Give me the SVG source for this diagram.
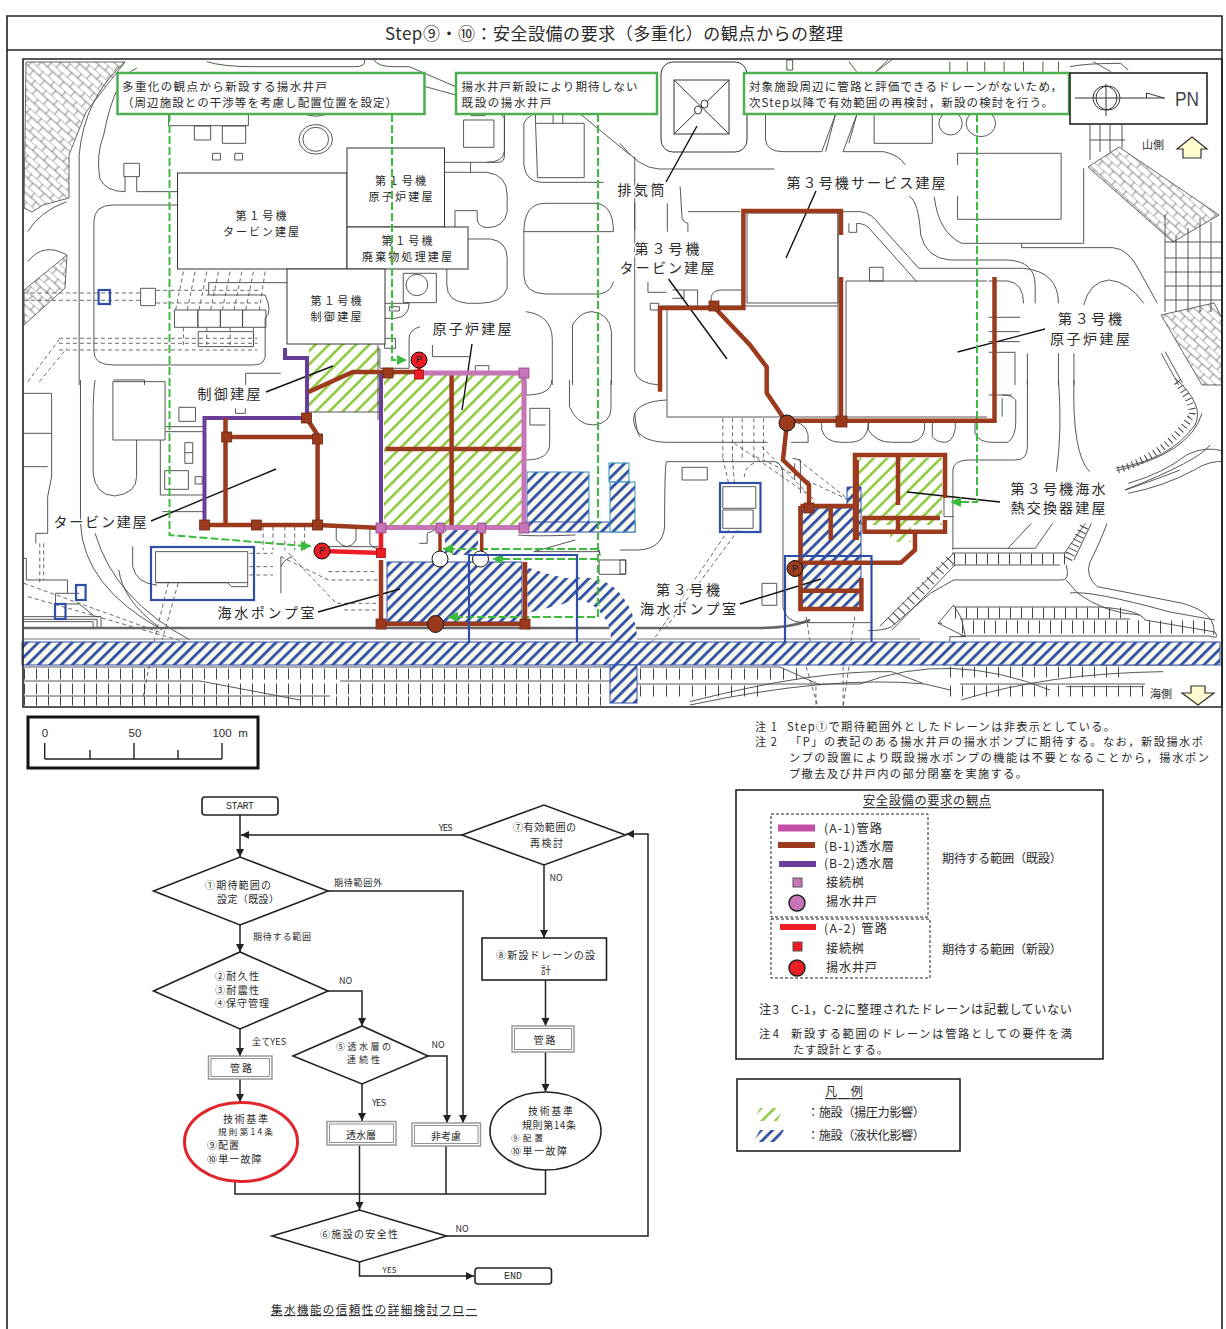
<svg xmlns="http://www.w3.org/2000/svg" width="1226" height="1329" viewBox="0 0 1226 1329">
<style>
text{font-family:"Noto Sans CJK JP","Noto Sans",sans-serif;fill:#2a2a2a;dominant-baseline:central}
.mono{font-family:"Liberation Mono","Noto Sans CJK JP",monospace}
.c{text-anchor:middle}
.u{text-decoration:underline}
.l{font-size:14px;paint-order:stroke;stroke:#fff;stroke-width:3px}
.s{font-size:11.5px}
.b{font-size:11px}
.f{font-size:10px}
.n{font-size:11.200px}
.g{font-size:12.200px}
.m *{fill:none;stroke:#444;stroke-width:.9px;vector-effect:non-scaling-stroke}
.m .d{stroke-dasharray:4 3;stroke-width:.8px}
.lead{stroke:#111;stroke-width:1.4px;fill:none}
.bldg{fill:#fff;stroke:#333;stroke-width:1px}
.gb{fill:#fff;stroke:#4cb050;stroke-width:2.5px}
.gd{fill:none;stroke:#3dbb3d;stroke-width:2px;stroke-dasharray:8 3}
.ga{fill:#3dbb3d}
.bo{fill:none;stroke:#2f4ea6;stroke-width:2.2px}
.hb{fill:url(#hb);stroke:#2f4ea6;stroke-width:1px}
.hg{fill:url(#hg)}
.br{fill:none;stroke:#9c3a1e;stroke-width:4.5px;stroke-linejoin:miter}
.br2{fill:none;stroke:#9c3a1e;stroke-width:3.5px}
.pu{fill:none;stroke:#6a3d9a;stroke-width:4px}
.mg{fill:none;stroke:#c774b8;stroke-width:5px}
.re{fill:none;stroke:#ee1c25;stroke-width:4px}
.sb{fill:#9c3a1e;stroke:#6e2a14;stroke-width:.8px}
.sm{fill:#c774b8;stroke:#8a4a80;stroke-width:.8px}
.sr{fill:#ee1c25;stroke:#a01015;stroke-width:.8px}
.st{fill:url(#st);stroke:#444;stroke-width:.8px}
.pk{fill:none;stroke:#444;stroke-width:11px;stroke-dasharray:1 11}
.pl{fill:none;stroke:#444;stroke-width:.9px}
.fl{fill:none;stroke:#222;stroke-width:1.5px}
.fa{fill:none;stroke:#222;stroke-width:1.5px;marker-end:url(#ah)}
.fn{fill:#fff;stroke:#222;stroke-width:1.6px}
.db{fill:#fff;stroke:#999;stroke-width:1.5px}
.db2{fill:none;stroke:#777;stroke-width:.8px}
.box{fill:#fff;stroke:#222;stroke-width:1.6px}
.dash{fill:none;stroke:#222;stroke-width:1px;stroke-dasharray:3 2}
</style>
<defs>
<pattern id="hb" width="8" height="8" patternUnits="userSpaceOnUse" patternTransform="rotate(45)"><rect width="8" height="8" fill="#fbfbee"/><rect width="2.800" height="8" fill="#2f4ea6"/></pattern>
<pattern id="hg" width="9.500" height="9.500" patternUnits="userSpaceOnUse" patternTransform="rotate(45)"><rect width="9.500" height="9.500" fill="#fff"/><rect width="2.600" height="9.500" fill="#8fc93f"/></pattern>
<pattern id="st" width="15" height="12" patternUnits="userSpaceOnUse" patternTransform="rotate(42)"><rect width="15" height="12" fill="#fff"/><path d="M0 0H15M0 6H15M5 0V6M12 6V12" stroke="#555" stroke-width=".7" fill="none"/></pattern>
<marker id="ah" markerWidth="9" markerHeight="9" refX="8" refY="4" orient="auto" markerUnits="userSpaceOnUse"><path d="M0 0L8 4L0 8Z" fill="#222"/></marker>
<clipPath id="map"><rect x="24" y="59" width="1197" height="647"/></clipPath>
</defs>
<rect width="1226" height="1329" fill="#fff"/>
<g id="frame">
<path d="M7 1329V16H1222V1329" fill="none" stroke="#222" stroke-width="1.600"/>
<path d="M7 50H1222" fill="none" stroke="#222" stroke-width="1.600"/>
<text x="614" y="32" class="c" font-size="17" textLength="458">Step⑨・⑩：安全設備の要求（多重化）の観点からの整理</text>
</g>
<g id="map-base" clip-path="url(#map)">
<polygon class="st" points="26,62 125,62 86,112 69,155 69,198 43,205 32,212 24,208"/>
<polygon class="st" points="67,255 65,288 24,325 24,290"/>
<polygon class="st" points="1088,167 1119,147 1219,215 1173,242"/>
<polygon class="st" points="1161,315 1214,303 1224,322 1224,385 1202,385"/>
<path class="pl" d="M1165,215V312M1222,218V312M1165,242H1222M1165,258H1222M1165,272H1222M1165,286H1222M1165,300H1222M1176,236V312M1188,228V312M1200,218V312M1211,222V312"/>
<path class="pl" d="M1090,125V160M1100,125V152M1110,125V152M1122,125V148M1090,140H1125"/>
<path class="pk" d="M1177,382Q1198,410 1190,418Q1165,455 1118,470" style="stroke-width:7px;stroke-dasharray:1 4"/>
<path class="pl" d="M1175,378Q1205,405 1195,425Q1170,460 1116,468M1180,470Q1160,478 1125,490Q1200,460 1210,445"/>
<g id="parking">
<path class="pk" d="M24,674H612"/>
<path class="pk" d="M24,689H612"/>
<path class="pk" d="M24,701H612" style="stroke-width:9px"/>
<path class="pl" d="M24,667H612M24,681H200L300,700M24,696H330M610,681H340M620,684H860Q950,650 1050,690M640,667H780L820,685"/>
<path class="pk" d="M640,674H800" style="stroke-dasharray:1 12"/>
<path class="pk" d="M640,691H760" style="stroke-dasharray:1 12"/>
<path class="pk" d="M950,672H1130" style="stroke-dasharray:1 11"/>
<path class="pk" d="M950,691H1145" style="stroke-dasharray:1 11"/>
<path class="pl" d="M960,684H1145M690,705Q830,675 925,684L950,690M955,665H1190"/>
<path class="pk" d="M954,559H1068" style="stroke-width:11px;stroke-dasharray:1 10"/>
<path class="pl" d="M952,553H1068M952,565H1060"/>
<path class="pk" d="M950,560L888,625" style="stroke-width:10px;stroke-dasharray:1 6"/>
<path class="pl" d="M954,553L880,626M955,565L892,630"/>
<path class="pk" d="M955,613H1130" style="stroke-width:11px;stroke-dasharray:1 10"/>
<path class="pk" d="M962,627H1210" style="stroke-width:13px;stroke-dasharray:1 10"/>
<path class="pl" d="M955,607H1100Q1140,610 1145,620L1215,632Q1220,640 1210,636H960M960,619H1130M1070,593Q1090,590 1170,612Q1215,620 1215,620"/>
<path class="pk" d="M1068,559L1085,525" style="stroke-width:9px;stroke-dasharray:1 4"/>
</g>
<g class="m" transform="translate(20 55) scale(.3891 .3333)">
<path d="M270,20Q165,130 152,300V990"/>
<path d="M300,40Q245,60 215,240Q195,300 205,370Q220,410 270,410V365M300,365V410H405M405,450H240Q190,450 190,500V890Q190,930 240,930H600Q635,930 630,890V790Q650,770 630,720H480"/>
<path d="M20,530Q50,470 120,440M20,620Q60,560 120,600"/>
<rect x="267" y="325" width="40" height="40"/>
<rect x="382" y="177" width="205" height="35"/>
<rect x="448" y="213" width="42" height="42"/>
<rect x="520" y="213" width="60" height="52"/>
<rect x="495" y="295" width="20" height="20"/>
<rect x="552" y="295" width="20" height="20"/>
<ellipse cx="760" cy="253" rx="43" ry="44"/>
<ellipse cx="760" cy="253" rx="33" ry="36"/>
<path d="M730,177Q760,190 790,177M480,20Q520,35 600,35H860Q890,35 885,15M910,15Q920,35 960,35H1000L1120,95M1042,95L1120,120"/>
<rect x="397" y="765" width="60" height="52"/>
<rect x="457" y="765" width="58" height="52"/>
<rect x="515" y="765" width="57" height="52"/>
<rect x="572" y="765" width="60" height="52"/>
<rect x="310" y="700" width="38" height="52"/>
<path class="d" d="M10,714H310M350,706H620M10,736H310M350,744H620M420,650L400,765M450,650L430,765M480,650L460,765M510,650L490,765M540,650L520,765M570,650L550,765M600,650L580,765M630,650L615,765M420,817V870M480,817V870M540,817V870M600,817V870M100,850H610M100,865H610M100,885H610M20,980L100,855M50,980L120,880"/>
<path d="M485,683H687M485,683V720M458,830H600V875H458Z"/>
<path d="M1091,322H1230Q1245,322 1245,300V190Q1240,175 1225,172M1158,322V352M1091,352H1200Q1252,360 1252,420V470Q1245,518 1200,518Q1175,515 1175,490V467H1118V517"/>
<path d="M1151,552H1210Q1252,560 1252,610V700Q1240,745 1180,745H1150Q1097,740 1097,690V643"/>
<rect x="985" y="655" width="85" height="88"/>
<ellipse cx="1020" cy="690" rx="28" ry="32"/>
<path d="M937,745H1000Q1000,785 965,790H937M950,755H975V768H950ZM937,850H965V880H937ZM925,880V940H1000V850Q1000,825 1028,815M1060,870V905H1155M1170,950V932H1205V950"/>
<path d="M1300,770Q1365,780 1368,850V990M1420,990V810Q1440,770 1470,770Q1515,775 1520,830V990"/>
<path d="M1140,195H1218V277H1140ZM1160,177V182H1195V177M1245,180Q1245,250 1245,290Q1240,322 1200,322M1295,205V330Q1300,380 1340,382H1500"/>
<path d="M1325,205H1450V368H1330ZM1370,177V205M1395,205V177M1325,205V175M1295,205Q1300,190 1315,180M1440,177L1568,300"/>
<path d="M1295,530V660Q1295,715 1350,717H1490Q1520,710 1525,680M1525,530Q1525,450 1480,445H1350Q1295,445 1295,530Z"/>
<path d="M240,975H320V990M580,990V955H670"/>
</g>
<g class="m" transform="translate(20 380) scale(.3953 .3333)">
<rect x="235" y="5" width="132" height="175"/>
<path d="M10,40H80V290L70,350V460H40V490M10,160H80M10,260H70"/>
<path d="M190,0Q185,30 185,120V280Q190,345 240,348Q295,340 295,290V180"/>
<path d="M368,140H465M368,155H465M355,180V345H465M465,395H360"/>
<rect x="402" y="82" width="42" height="42"/>
<rect x="417" y="188" width="20" height="62"/>
<path d="M417,218H437M545,85V100H570V85"/>
<rect x="366" y="272" width="60" height="56"/>
<rect x="443" y="290" width="18" height="22"/>
<path d="M1280,0V45Q1345,45 1345,0M1280,240Q1340,240 1340,190V85H1290V135H1330M1390,0V80Q1410,135 1450,135Q1495,130 1495,85V0M1555,100Q1560,160 1568,170"/>
<path d="M153,0V430Q160,620 360,750M190,460Q240,660 430,780M285,500V560Q295,610 345,615H342M250,570Q260,660 350,740"/>
<rect x="343" y="515" width="233" height="93"/>
<path d="M343,608H525L535,620H576V608"/>
<path class="d" d="M615,440V510M640,440V510M670,440V510M695,440V510M720,440V510M580,520H640M580,560H640M580,585H640M680,520L800,670H905M660,530L780,600H905M780,575H905M820,690H905"/>
<path d="M760,500H912M800,440V480Q830,520 850,480V440M885,440V490Q890,505 905,505"/>
<path d="M660,530V640M660,560Q670,535 690,530"/>
<path class="d" d="M50,490V610M60,490V600M10,610L360,760M20,650L430,790M375,610L340,780L310,960M400,610L360,780"/>
<path d="M10,535H16V600H120V640M90,640H150M90,640V672H150L190,710"/>
<path d="M10,710H205V745M10,718H195V745M10,725H185V745"/>
<path d="M1405,465Q1300,470 1260,465M1010,490H1030V460Q1050,450 1060,445M1465,540H1532V583H1465Z"/>
<path d="M1405,480L1300,515H1465Q1470,540 1465,510"/>
</g>
<path d="M24,628H760Q790,628 810,620" fill="none" stroke="#666" stroke-width="2.500"/>
<path d="M24,639H920" fill="none" stroke="#777" stroke-width="1"/>
<g class="m" transform="translate(620 380) scale(.388 .3333)">
<path d="M120,60Q35,65 35,120Q40,185 120,187H380M445,125Q490,130 485,187Q470,187 440,187M520,125V150Q530,187 570,187H590Q640,187 640,125M640,125V150Q660,187 700,187H750Q790,180 785,125M805,125V170Q815,187 840,187Q865,180 865,125M915,125V160Q925,187 960,187H1000Q1020,170 1020,125V60Q1010,45 985,45M985,55V110M950,45H1010"/>
<path class="d" d="M265,115V235M290,115V235M315,115V235M345,115V235M370,115V235M265,235L280,310M290,235L295,310M345,250Q320,260 320,300M295,190L480,340M365,200L500,360M350,230L590,360M460,240L580,350M305,450L120,740M280,450L80,790M480,710L490,785M605,710L595,785M480,860L510,980M590,860L575,980M505,920V980M575,860V980"/>
<path d="M120,245H400Q420,250 420,290V680Q425,725 470,728H650M120,245Q115,250 115,440Q110,505 50,510H0"/>
<path d="M445,235L465,240V340M450,250V300"/>
<rect x="160" y="262" width="65" height="38"/>
<rect x="265" y="320" width="85" height="65"/>
<rect x="265" y="390" width="78" height="55"/>
<rect x="366" y="610" width="38" height="66"/>
<rect x="0" y="540" width="15" height="42"/>
<path d="M858,510V270Q860,240 900,240H1020Q1050,240 1050,200V0M860,350H835V410H860"/>
<path d="M1130,0Q1140,150 1125,275M1170,0Q1165,220 1210,275M1060,430L1000,505H1070L1115,430M1000,505H858M1280,272Q1470,220 1500,100M1310,310Q1400,280 1460,225Q1510,195 1560,215M1310,340Q1400,320 1480,270Q1520,240 1560,245"/>
<path d="M1145,520L1200,430M1170,540L1215,430M1255,430Q1240,480 1210,550Q1200,590 1230,620L1450,670Q1540,700 1530,765"/>
<path d="M1150,555Q1160,600 1140,600H860L800,640L700,740Q680,752 640,752M1150,600L1180,640Q1250,700 1340,705M860,675L820,730L890,770H850V785M820,730H830M880,715L890,770M860,675L880,715"/>
<path d="M180,965Q500,870 700,875L780,910M1150,920H1350M880,960Q1100,880 1400,875"/>
</g>
<g class="m" transform="translate(620 55) scale(.388 .3333)">
<rect x="430" y="15" width="15" height="30"/>
<path d="M375,175V250Q375,290 420,290H520L555,180M530,290L555,180M575,290L610,180M590,265L610,180M575,290H680Q720,300 735,330M590,20L610,50M660,50L690,15M700,15L660,50"/>
<rect x="655" y="175" width="150" height="90"/>
<ellipse cx="852" cy="205" rx="30" ry="35"/>
<ellipse cx="930" cy="205" rx="38" ry="40"/>
<path d="M870,330V295H1137V493H870V423"/>
<path d="M0,265Q50,340 100,342H398M38,305V525M38,445V950Q45,985 100,990M122,445V530M155,395L160,490Q165,505 175,505V530M175,470H310"/>
<path d="M810,425Q820,530 880,565H1035V578H1270Q1310,580 1340,650L1385,745M1035,565H1195V340M745,423Q770,440 775,540Q790,610 850,615H1000Q1070,620 1070,690V745M575,470H620Q650,475 670,510L770,640H1040Q1130,650 1130,745"/>
<path d="M590,505V532H610V505Q635,505 650,530L765,680"/>
<rect x="643" y="637" width="35" height="41"/>
<path d="M950,678H1000Q1040,685 1040,745M950,787H1032M950,830H1030M950,860H1030M950,892H1018V990M1050,895V990M1130,895V990M1170,895V990M1195,750Q1210,680 1260,675Q1310,680 1350,745"/>
<path d="M72,680V712H120M135,705H200V755M165,705V730H135M235,745V725Q240,705 260,705H318M78,745H100V765H78Z"/>
<path d="M1395,895L1440,990M1405,890L1450,985"/>
<path d="M850,50V20M895,50V20M940,50V20M990,50V20M1040,50V20M1090,50V20M1130,50V20M1160,35Q1200,25 1290,25L1310,45M1220,20L1265,50"/>
</g>
</g>
<g id="hatch-areas">
<rect class="hg" x="309" y="344" width="70" height="68"/>
<rect class="hg" x="384" y="372" width="140" height="153"/>
<path class="hg" d="M859,458H942V525H911V542H890V525H859Z"/>
<rect class="hb" x="527" y="472" width="62" height="51" style="stroke:#2f8fc0"/>
<rect class="hb" x="522" y="522" width="113" height="10"/>
<rect class="hb" x="609" y="463" width="20" height="19" style="stroke:#2f8fc0"/>
<rect class="hb" x="610" y="482" width="25" height="50" style="stroke:#2f8fc0"/>
<path class="hb" d="M445,530H478V555H445Z" style="stroke:none"/>
<rect class="hb" x="387" y="562" width="135" height="60"/>
<path class="hb" d="M526,567Q550,575 565,578Q580,577 593,578Q612,582 622,596Q637,615 637,642H611Q612,625 600,612Q590,600 577,600Q568,601 563,604L528,613Z" style="stroke:none"/>
<rect class="hb" x="22" y="642" width="1198" height="23"/>
<rect class="hb" x="610" y="665" width="27" height="38"/>
<path class="hb" d="M802,508H847V487H861V610H802Z"/>
</g>
<g id="buildings">
<rect class="bldg" x="177.500" y="173" width="169.500" height="96"/>
<rect class="bldg" x="347" y="148" width="97.500" height="79"/>
<rect class="bldg" x="347" y="227" width="121" height="42"/>
<rect class="bldg" x="287" y="269" width="98" height="75"/>
<g class="m">
<path d="M309,412H379"/>
<rect x="747" y="213" width="91" height="90"/>
<path d="M660,306H838M838,213V421M846,281H987M846,281V421M667,306V417H838M846,417H987"/>
<path d="M378,345V420"/>
</g>
<rect class="bldg" x="661" y="62" width="86" height="90" rx="12"/>
<rect class="bldg" x="674" y="80" width="55" height="54"/>
<path d="M674,80L729,134M729,80L674,134" stroke="#333" fill="none"/>
<g fill="#fff" stroke="#333"><ellipse cx="698" cy="110" rx="3.500" ry="4"/><ellipse cx="704.500" cy="104" rx="3.500" ry="4"/></g>
</g>
<g id="map-labels">
<text x="261" y="215" class="c b" textLength="51">第１号機</text><text x="261" y="231" class="c b" textLength="76">タービン建屋</text>
<text x="400.500" y="180" class="c b" textLength="51">第１号機</text><text x="400.500" y="195.500" class="c b" textLength="64">原子炉建屋</text>
<text x="407" y="240" class="c b" textLength="51">第１号機</text><text x="407" y="256" class="c b" textLength="90">廃棄物処理建屋</text>
<text x="336" y="300" class="c b" textLength="51">第１号機</text><text x="336" y="316" class="c b" textLength="51">制御建屋</text>
<text x="472" y="328" class="c l" textLength="79">原子炉建屋</text>
<text x="641" y="189" class="c l" textLength="47">排気筒</text>
<text x="866" y="182" class="c l" textLength="159">第３号機サービス建屋</text>
<text x="667" y="248" class="c l" textLength="65">第３号機</text><text x="667" y="267" class="c l" textLength="95">タービン建屋</text>
<text x="1090" y="318" class="c l" textLength="64">第３号機</text><text x="1090" y="338" class="c l" textLength="80">原子炉建屋</text>
<text x="229" y="393" class="c l" textLength="63">制御建屋</text>
<text x="100" y="521" class="c l" textLength="93">タービン建屋</text>
<text x="266" y="612" class="c l" textLength="97">海水ポンプ室</text>
<text x="688" y="589" class="c l" textLength="64">第３号機</text><text x="688" y="608" class="c l" textLength="96">海水ポンプ室</text>
<text x="1058" y="488" class="c l" textLength="95">第３号機海水</text><text x="1058" y="507" class="c l" textLength="95">熱交換器建屋</text>
<text x="1153" y="144" class="c u b" style="paint-order:stroke;stroke:#fff;stroke-width:6px">山側</text>
<text x="1161" y="693" class="c u b" style="paint-order:stroke;stroke:#fff;stroke-width:6px">海側</text>
</g>
<g id="leaders">
<path class="lead" d="M697,126L666,182M816,191L786,258M668.500,279L727,359M1045,329L957.600,352M472,344L462,410M266,392L333,366M151,521L276,469M318,612L400,589M740,604L821,579M1000,502L907,492"/>
</g>
<g id="arrows">
<path d="M1192,137L1207,149H1201V158H1183V149H1177Z" fill="#fffbcf" stroke="#333" stroke-width="1.200"/>
<path d="M1198,705L1214,693H1205V686H1191V693H1182Z" fill="#fffbcf" stroke="#333" stroke-width="1.200"/>
</g>
<g id="connectors">
<path class="gd" d="M169.500,114V535L305,546"/>
<path class="gd" d="M392,114V360H398"/>
<path class="gd" d="M598,114V617H455"/>
<path class="gd" d="M598,549H452"/>
<path class="gd" d="M598,559H500"/>
<path class="gd" d="M977,114V502H958"/>
<path class="ga" d="M312,546L301,541V551ZM407,360L397,355V365ZM447,617L458,612V622ZM442,549L453,544V554ZM492,559L503,554V564ZM950,502L961,497V507Z"/>
<path class="pu" d="M285,348V358H307V418H204.500V525"/>
<path class="pu" d="M381,373V528"/>
<path class="br" d="M308.500,392L352.700,372H388H419"/>
<path class="br" d="M225.500,418V525M226.700,437H317.600M306.500,418L317.600,435V525M204.600,525H317.600L381,528"/>
<path class="br" d="M451.600,375V527M385.600,449H521"/>
<path class="mg" d="M419,373H524V527.500H381"/>
<path class="re" d="M419,360V375"/>
<path class="re" d="M381,528V553L322,551" style="stroke-width:4.500px"/>
<path class="br" d="M381,560V624H525V562"/>
<path class="br2" d="M440,530V557M481.700,530V553"/>
<path class="br" d="M660,391.700V308H743.400V211H841V235M841,277V421.700M793,420.700H994.500V277M714,307L750,345L766.700,367V393L787,423L783,460L809,485V508M800.400,506H856.700M800.400,506V609H861.400V578M802,590.700H861M800.400,562.700H901L915,550V531.700M830.700,508V540M856.700,460V540M855,540V455H945V498M945,520V531.700H862.500M864.500,531.700V518H940M898,457V505M898,520V531.700"/>
</g>
<g id="junctions">
<g class="sb"><rect x="301.500" y="413" width="10" height="10"/><rect x="221.700" y="432" width="10" height="10"/><rect x="312.600" y="434" width="10" height="10"/><rect x="199.600" y="520" width="10" height="10"/><rect x="251.400" y="520" width="10" height="10"/><rect x="312.600" y="520" width="10" height="10"/><rect x="383" y="368" width="10" height="10"/><rect x="376" y="619" width="10" height="10"/><rect x="520" y="619" width="10" height="10"/><rect x="709" y="301" width="10" height="10"/><rect x="836" y="416" width="11" height="11"/><rect x="804" y="503" width="10" height="10"/></g>
<g class="sm"><rect x="519" y="368" width="10" height="10"/><rect x="376" y="523" width="10" height="10"/><rect x="436" y="523" width="8" height="10"/><rect x="477.700" y="523" width="8" height="10"/><rect x="519" y="523" width="10" height="10"/></g>
<g class="sr"><rect x="414.500" y="370" width="9" height="9"/><rect x="376.500" y="548.500" width="9" height="9"/></g>
<g stroke="#111" stroke-width="1">
<circle cx="419" cy="360" r="8" fill="#ee1c25"/><circle cx="322" cy="551" r="8" fill="#ee1c25"/>
<ellipse cx="435.500" cy="624" rx="8" ry="8.500" fill="#9c3a1e"/><circle cx="787" cy="423" r="8" fill="#9c3a1e"/><circle cx="795" cy="568.500" r="8" fill="#9c3a1e"/>
<circle cx="440" cy="559" r="8" fill="#fff"/><circle cx="480.500" cy="559" r="8" fill="#fff"/>
</g>
<text x="419" y="360" class="c mono" font-size="11">P</text><text x="322" y="551" class="c mono" font-size="11">P</text><text x="795" y="568.500" class="c mono" font-size="11">P</text>
</g>
<g id="blue-frames">
<rect class="bo" x="151" y="547" width="103" height="53"/>
<path class="bo" d="M469,642V555H577V642"/>
<path class="bo" d="M785,642V556H871.500V642"/>
<rect class="bo" x="720" y="483" width="40.500" height="49"/>
<rect class="bo" x="98.600" y="290" width="11.400" height="14"/>
<rect class="bo" x="76" y="585" width="9.600" height="15"/>
<rect class="bo" x="55" y="604" width="10.500" height="15"/>
</g>
<g id="callouts">
<rect class="gb" x="117.500" y="73" width="307" height="41"/>
<text x="122" y="86" class="s" textLength="205">多重化の観点から新設する揚水井戸</text>
<text x="122" y="102" class="s" textLength="275">（周辺施設との干渉等を考慮し配置位置を設定）</text>
<rect class="gb" x="456" y="73" width="201" height="41"/>
<text x="461.600" y="86" class="s" textLength="176">揚水井戸新設により期待しない</text>
<text x="461.600" y="102" class="s" textLength="90">既設の揚水井戸</text>
<rect class="gb" x="744" y="73" width="325" height="41"/>
<text x="749" y="86" class="s" textLength="313">対象施設周辺に管路と評価できるドレーンがないため，</text>
<text x="749" y="102" class="s" textLength="304">次Step以降で有効範囲の再検討，新設の検討を行う。</text>
</g>
<g id="pn">
<rect x="1070" y="73" width="137" height="51" fill="#fff" stroke="#222" stroke-width="1.600"/>
<circle cx="1105" cy="98" r="12" fill="none" stroke="#333"/><circle cx="1108" cy="98" r="12" fill="none" stroke="#333"/>
<path d="M1075,98H1165M1106,84V116M1146.500,98V93L1164,98" fill="none" stroke="#333"/>
<text x="1187" y="98" class="c" style="font-family:'Liberation Sans',sans-serif;fill:#444" font-size="21" textLength="24" lengthAdjust="spacingAndGlyphs">PN</text>
</g>
<path d="M23,59H1222V707H23Z" fill="none" stroke="#222" stroke-width="1.600"/>
<g id="scale">
<rect x="28" y="717" width="230" height="51" fill="#fff" stroke="#111" stroke-width="3"/>
<path d="M44.700,759H222M44.700,743V759M134,743V759M222,743V759M90,750V759M178,750V759" fill="none" stroke="#222" stroke-width="1.400"/>
<g style="font-size:11.500px"><text x="45" y="733" class="c" style="font-family:'Liberation Sans',sans-serif">0</text><text x="135" y="733" class="c" style="font-family:'Liberation Sans',sans-serif">50</text><text x="222" y="733" class="c" style="font-family:'Liberation Sans',sans-serif">100</text><text x="243" y="733" class="c" style="font-family:'Liberation Sans',sans-serif">m</text></g>
</g>
<g id="notes">
<text x="755" y="726" class="n" textLength="22">注1</text><text x="787" y="726" class="n" textLength="328">Step①で期待範囲外としたドレーンは非表示としている。</text>
<text x="755" y="741" class="n" textLength="22">注2</text><text x="790" y="741" class="n" textLength="413">「P」の表記のある揚水井戸の揚水ポンプに期待する。なお，新設揚水ポ</text>
<text x="789" y="757" class="n" textLength="420">ンプの設置により既設揚水ポンプの機能は不要となることから，揚水ポン</text>
<text x="789" y="773" class="n" textLength="238">プ撤去及び井戸内の部分閉塞を実施する。</text>
</g>
<g id="legend">
<rect class="box" x="736" y="790" width="367" height="269"/>
<text x="927" y="800" class="c u g" textLength="128">安全設備の要求の観点</text>
<rect class="dash" x="771" y="814" width="157" height="103"/>
<rect class="dash" x="771" y="919" width="159" height="59"/>
<path d="M778,828H815" stroke="#c44fa6" stroke-width="7"/><path d="M778,845H815" stroke="#9c3a1e" stroke-width="6"/><path d="M779,864H816" stroke="#6a3d9a" stroke-width="6"/>
<text x="824" y="828" class="g" textLength="58">(A-1)管路</text><text x="824" y="846" class="g" textLength="70">(B-1)透水層</text><text x="824" y="863" class="g" textLength="70">(B-2)透水層</text>
<text x="826" y="882" class="g" textLength="38">接続桝</text><text x="826" y="901" class="g" textLength="51">揚水井戸</text>
<rect x="793" y="878" width="9" height="9" fill="#c774b8" stroke="#555"/><circle cx="797" cy="903" r="8" fill="#c774b8" stroke="#222" stroke-width="1.500"/>
<text x="942" y="858" class="g" textLength="120">期待する範囲（既設）</text>
<path d="M780,927H816" stroke="#ee1c25" stroke-width="6"/>
<text x="824" y="928" class="g" textLength="63">(A-2) 管路</text><text x="826" y="948" class="g" textLength="38">接続桝</text><text x="826" y="967" class="g" textLength="51">揚水井戸</text>
<rect x="793" y="942" width="9" height="9" fill="#ee1c25" stroke="#555"/><circle cx="797" cy="968" r="8" fill="#ee1c25" stroke="#222" stroke-width="1.500"/>
<text x="942" y="949" class="g" textLength="120">期待する範囲（新設）</text>
<text x="759" y="1009" class="g" textLength="20">注3</text><text x="791" y="1009" class="g" textLength="281">C-1，C-2に整理されたドレーンは記載していない</text>
<text x="759" y="1033" class="n" textLength="20">注4</text><text x="791" y="1033" class="n" textLength="281">新設する範囲のドレーンは管路としての要件を満</text>
<text x="793" y="1049" class="n" textLength="95">たす設計とする。</text>
</g>
<g id="legend2">
<rect class="box" x="737" y="1079" width="223" height="72"/>
<text x="844" y="1091" class="c u g" textLength="38">凡　例</text>
<polygon points="753,1121 760,1108 784,1108 777,1121" fill="url(#hg)"/>
<polygon points="753,1142 760,1130 784,1130 777,1142" fill="url(#hb)"/>
<text x="807" y="1112" class="g" textLength="118">：施設（揚圧力影響）</text>
<text x="807" y="1135" class="g" textLength="118">：施設（液状化影響）</text>
</g>
<g id="flow-connectors">
<path class="fa" d="M240,815V857"/>
<path class="fa" d="M462,835H241"/>
<path class="fa" d="M240,925V952"/>
<path class="fa" d="M240,1029V1056"/>
<path class="fa" d="M240,1079V1102"/>
<path class="fa" d="M328,891H463V1123"/>
<path class="fa" d="M328,991H362V1026"/>
<path class="fa" d="M428,1056H447V1123"/>
<path class="fa" d="M362,1084V1121"/>
<path class="fa" d="M544,865V938"/>
<path class="fa" d="M545.500,980V1026"/>
<path class="fa" d="M545.500,1052V1092"/>
<path class="fl" d="M235,1181V1194H545.500V1170M446,1146V1194"/>
<path class="fa" d="M359.500,1145V1210"/>
<path class="fa" d="M446.500,1236H648V834H626"/>
<path class="fa" d="M359.500,1262V1276H474"/>
</g>
<g id="flow-nodes">
<g id="n-start"><rect class="fn" x="202" y="797" width="76" height="18" rx="3"/><text x="240" y="806" class="c mono f" textLength="28">START</text></g>
<g id="n-d1"><polygon class="fn" points="153.500,891 240,857 328,891 240,925"/><text x="205" y="884" class="f" textLength="66">①期待範囲の</text><text x="217" y="898" class="f" textLength="62">設定（既設）</text></g>
<g id="n-d2"><polygon class="fn" points="153.500,991 240,952 328,991 240,1029"/><text x="215" y="975" class="f" textLength="44">②耐久性</text><text x="215" y="989" class="f" textLength="44">③耐震性</text><text x="215" y="1002.500" class="f" textLength="54">④保守管理</text></g>
<g id="n-d5"><polygon class="fn" points="293,1056 362,1026 428,1056 362,1084"/><text x="336" y="1046" style="font-size:9px" textLength="55">⑤透水層の</text><text x="347" y="1059" style="font-size:9px" textLength="33">連続性</text></g>
<g id="n-d7"><polygon class="fn" points="462,835 544,805 625.500,835 544,865"/><text x="513" y="826" class="f" textLength="63">⑦有効範囲の</text><text x="530" y="842.500" class="f" textLength="33">再検討</text></g>
<g id="n-d6"><polygon class="fn" points="272,1236 359.500,1210 446.500,1236 359.500,1262"/><text x="320" y="1233" class="f" textLength="78">⑥施設の安全性</text></g>
<g id="n-p8"><rect class="box" x="482" y="938" width="124.500" height="42"/><text x="496" y="954" class="f" textLength="99">⑧新設ドレーンの設</text><text x="546" y="969" class="c f">計</text></g>
<g id="n-k1"><rect class="db" x="208.500" y="1056" width="63.500" height="23"/><rect class="db2" x="211" y="1058.500" width="58.500" height="18"/><text x="241" y="1067" class="c f" textLength="22">管路</text></g>
<g id="n-k2"><rect class="db" x="512" y="1026" width="62" height="26"/><rect class="db2" x="514.500" y="1028.500" width="57" height="21"/><text x="544.500" y="1039.500" class="c f" textLength="22">管路</text></g>
<g id="n-t"><rect class="db" x="327" y="1121.500" width="69" height="23.500"/><rect class="db2" x="329.500" y="1124" width="64" height="18.500"/><text x="361" y="1134" class="c f" textLength="30">透水層</text></g>
<g id="n-h"><rect class="db" x="412" y="1123" width="68.500" height="23"/><rect class="db2" x="414.500" y="1125.500" width="63.500" height="18"/><text x="446" y="1135" class="c f" textLength="30">非考慮</text></g>
<g id="n-e1"><ellipse cx="241" cy="1142" rx="56.500" ry="39.500" fill="#fff" stroke="#e0262c" stroke-width="3"/><text x="223" y="1118" class="f" textLength="45">技術基準</text><text x="218" y="1131" style="font-size:8.500px" textLength="55">規則第14条</text><text x="207" y="1144" class="f" textLength="32">⑨配置</text><text x="207" y="1158" class="f" textLength="54.500">⑩単一故障</text></g>
<g id="n-e2"><ellipse cx="545.500" cy="1131" rx="55.500" ry="39" fill="#fff" stroke="#222" stroke-width="1.600"/><text x="528" y="1110" class="f" textLength="45">技術基準</text><text x="522" y="1124" class="f" textLength="54">規則第14条</text><text x="511" y="1137" style="font-size:8.500px" textLength="32">⑨配置</text><text x="511" y="1150" class="f" textLength="56">⑩単一故障</text></g>
<g id="n-end"><rect class="fn" x="475" y="1268" width="76.500" height="16" rx="3"/><text x="513" y="1276" class="c mono f" textLength="18">END</text></g>
</g>
<g id="flow-labels">
<text x="445.700" y="827" class="c" textLength="14" font-size="9">YES</text>
<text x="358" y="882" class="c" textLength="48" font-size="9">期待範囲外</text>
<text x="282" y="936" class="c" textLength="58" font-size="9">期待する範囲</text>
<text x="269" y="1041" class="c" textLength="34" font-size="9">全てYES</text>
<text x="345.500" y="980" class="c" font-size="9">NO</text>
<text x="438" y="1044" class="c" font-size="9">NO</text>
<text x="379" y="1102" class="c" textLength="14" font-size="9">YES</text>
<text x="556" y="877" class="c" font-size="9">NO</text>
<text x="462" y="1228" class="c" font-size="9">NO</text>
<text x="389.500" y="1269" class="c" textLength="14" font-size="8">YES</text>
<text x="374" y="1309" class="c u" font-size="11.500" textLength="206">集水機能の信頼性の詳細検討フロー</text>
</g>
</svg>
